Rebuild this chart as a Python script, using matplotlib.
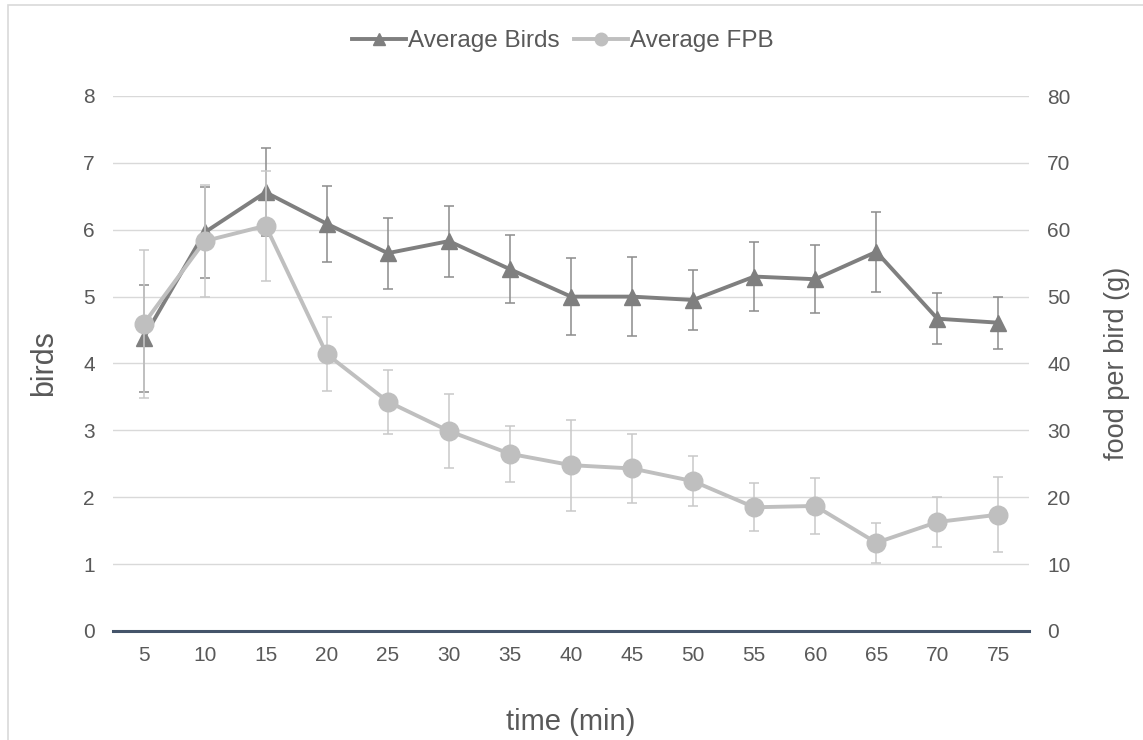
import matplotlib
matplotlib.use("Agg")
import matplotlib.pyplot as plt
from matplotlib.lines import Line2D
from matplotlib.patches import Rectangle

plt.rcParams['font.family'] = ['Liberation Sans', 'DejaVu Sans']

# data
times = ['5', '10', '15', '20', '25', '30', '35', '40', '45', '50', '55', '60', '65', '70', '75']
avg_birds = [4.38, 5.96, 6.56, 6.09, 5.65, 5.83, 5.41, 5.00, 5.00, 4.95, 5.30, 5.26, 5.67, 4.67, 4.61]
birds_err = [0.80, 0.68, 0.66, 0.57, 0.53, 0.53, 0.51, 0.58, 0.59, 0.45, 0.51, 0.51, 0.60, 0.38, 0.39]
avg_fpb = [45.9, 58.3, 60.6, 41.4, 34.3, 29.9, 26.5, 24.8, 24.3, 22.4, 18.5, 18.7, 13.2, 16.3, 17.4]
fpb_err = [11.0, 8.4, 8.2, 5.5, 4.8, 5.6, 4.2, 6.8, 5.1, 3.7, 3.6, 4.2, 3.0, 3.8, 5.6]

BIRD_COL = '#7f7f7f'
FPB_COL = '#bfbfbf'
TXT = '#595959'
GRID = '#d9d9d9'

fig = plt.figure(figsize=(11.43, 7.40), dpi=100)
ax = fig.add_axes([113/1143, 1-631/740, 916/1143, 535/740])
ax2 = ax.twinx()

x = list(range(1, len(times) + 1))

# birds (primary axis)
ax.errorbar(x, avg_birds, yerr=birds_err, fmt='none', ecolor='#8c8c8c',
            elinewidth=1.1, capsize=3.8, capthick=1.1, zorder=3)
ax.plot(x, avg_birds, color=BIRD_COL, lw=2.8, marker='^', ms=12, zorder=4)

# food per bird (secondary axis)
ax2.errorbar(x, avg_fpb, yerr=fpb_err, fmt='none', ecolor='#c9c9c9',
             elinewidth=1.1, capsize=3.8, capthick=1.1, zorder=3)
ax2.plot(x, avg_fpb, color=FPB_COL, lw=2.8, marker='o', ms=13.4, zorder=4)

ax.set_xlim(0.5, len(times) + 0.5)
ax.set_ylim(0, 8)
ax2.set_ylim(0, 80)
ax.set_yticks(range(0, 9))
ax2.set_yticks(range(0, 81, 10))
ax.set_xticks(x)
ax.set_xticklabels(times)

ax.grid(axis='y', color=GRID, lw=1.0)
ax.set_axisbelow(True)
for a in (ax, ax2):
    for s in a.spines.values():
        s.set_visible(False)
ax.axhline(0, color='#44546a', lw=2.2, zorder=5, clip_on=False)

ax.tick_params(axis='both', length=0, labelsize=15, labelcolor=TXT)
ax.tick_params(axis='y', pad=13)
ax.tick_params(axis='x', pad=11)
ax2.tick_params(axis='y', length=0, labelsize=15, labelcolor=TXT, pad=13)

ax.set_xlabel('time (min)', fontsize=21, color=TXT, labelpad=31)
ax.set_ylabel('birds', fontsize=22, color=TXT, labelpad=17)
ax2.set_ylabel('food per bird (g)', fontsize=19.5, color=TXT, labelpad=24)

handles = [
    Line2D([], [], color=BIRD_COL, lw=2.8, marker='^', ms=8),
    Line2D([], [], color=FPB_COL, lw=2.8, marker='o', ms=9),
]
fig.legend(handles, ['Average Birds', 'Average FPB'], loc='center',
           bbox_to_anchor=(563/1143, 1-41/740), ncol=2, frameon=False,
           fontsize=17.5, labelcolor=TXT, handlelength=2.2, handletextpad=0.1,
           columnspacing=0.6)

# chart border (cut off at right and bottom in the reference)
fig.patches.append(Rectangle((8/1143, -0.1), 1.2, 1.1 - 5.3/740,
                             transform=fig.transFigure, fill=False,
                             edgecolor=GRID, lw=1.2))

fig.savefig('out.png', dpi=100)
